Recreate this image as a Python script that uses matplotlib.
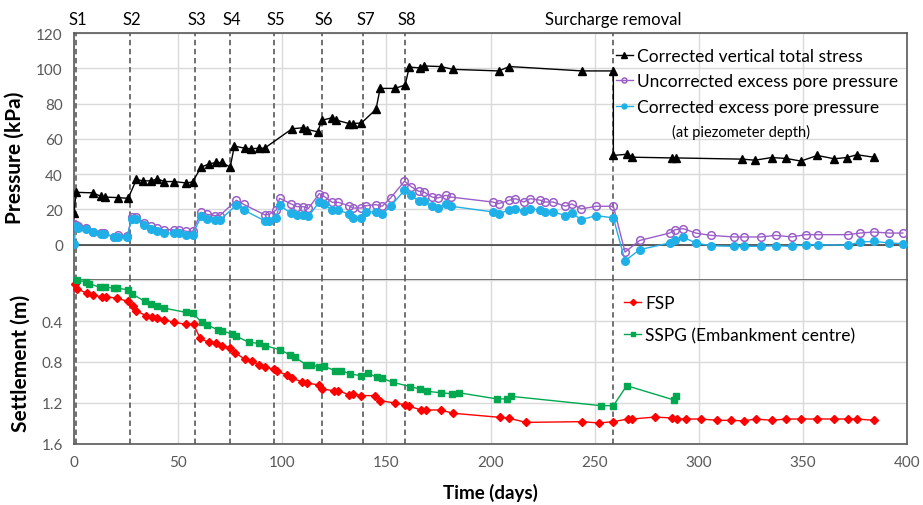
import matplotlib.pyplot as plt
import numpy as np

plt.rcParams['font.family'] = ['Lato', 'DejaVu Sans']

# stage / event times (days)
stage_days = [1, 27, 58, 75, 96, 119, 139, 159]
stage_names = ['S1', 'S2', 'S3', 'S4', 'S5', 'S6', 'S7', 'S8']
removal_day = 259

# corrected vertical total stress (kPa)
ts_day = [0, 1, 9, 13, 15, 21, 26, 30, 33, 37, 40, 43.4, 48, 54, 57, 61, 65, 68, 71, 75,
          77, 82, 85, 89, 91.5, 104.7, 110, 112, 117, 119, 124, 126, 132, 134, 138, 145,
          147, 154, 159, 161, 166, 168, 176, 182, 204, 209, 244, 259, 259, 265.7, 268,
          287, 289, 321, 327, 335, 342, 349, 357, 365, 371, 376, 384]
ts_val = [18, 29.7, 29.4, 27.4, 27, 26.7, 26.3, 37, 36.2, 36.2, 37.3, 35.8, 35.8, 35, 35.6,
          44, 45.8, 46.6, 46.6, 44, 55.9, 54.7, 54.4, 54.7, 54.7, 65.7, 66.3, 65.3, 64, 70.5,
          72, 70.6, 68.7, 68.7, 69, 76.7, 88.6, 88.6, 90.5, 100.7, 100.2, 101.3, 101, 99.4,
          98.5, 101, 98.5, 98.5, 50.6, 51.3, 49.6, 49.2, 49.2, 48.5, 47.9, 49.4, 48.9, 47.4,
          50.6, 48.7, 49.4, 51, 49.6]

# excess pore pressure (kPa)
pp_day = [0, 1, 2, 5.8, 9, 13, 14.6, 19, 21, 25.6, 27.7, 30, 33.6, 37, 40, 43, 48, 50.6, 54,
          57, 61, 64, 67.5, 70, 78, 81.4, 91.5, 93.4, 97, 98.7, 104, 107, 110, 112.6, 117.8,
          120, 124, 127, 132, 134, 138, 140, 145, 148, 152, 158.7, 162, 165.5, 168, 172,
          174.7, 178.7, 181, 201, 204, 209, 212, 216, 219, 224, 226, 230, 236, 239, 243.6,
          250.8, 259, 264.6, 271.6, 286, 288.6, 292.6, 298.6, 305.8, 316.7, 321.8, 329.8,
          337, 344.6, 351.4, 357.4, 371.5, 377.5, 384, 391.5, 398]
pp_uncorr = [12, 11.4, 10.4, 9.5, 7.4, 6.6, 6.6, 4.4, 5.3, 5.1, 15.5, 15.5, 12.3, 10.4, 9.5,
             8.5, 8.5, 8.5, 7.6, 7.6, 18.4, 17.2, 16.5, 16.5, 25.2, 22.9, 17, 17, 19.5, 26.3,
             23.3, 21.6, 21.6, 20.6, 29, 27.5, 24, 24, 22.1, 20.8, 20.8, 22.1, 22.7, 21.8,
             26.5, 36, 32.8, 30.3, 29.9, 27, 26.5, 28, 27, 24.2, 23.3, 25.2, 26.1, 24.2, 26.1,
             25.2, 24.2, 24.2, 21.8, 23.1, 20.3, 21.8, 21.8, -4.2, 2.4, 6.6, 8.5, 9.1, 6.6,
             5.3, 4.4, 4.4, 4.4, 5.3, 4.4, 5.7, 5.7, 5.7, 6.6, 7.2, 6.6, 6.6]
pp_corr = [0.5, 10.5, 9.7, 8.7, 7, 6.3, 6.3, 4.2, 4.6, 4.6, 14.8, 14.8, 11.2, 8.9, 7.6, 6.6,
           6.6, 6.6, 5.7, 5.7, 16.1, 14.8, 13.8, 13.8, 22.6, 19.7, 13.6, 13.6, 15.2, 22.6,
           17.8, 17, 17, 16.1, 24.3, 23.1, 19.5, 19.5, 17.6, 15.2, 15.2, 18.6, 18.6, 17.6,
           21.8, 30.9, 28, 24.6, 24.6, 21.8, 20.8, 23.1, 21.8, 18.6, 17.4, 19.9, 20.5, 18.9,
           20.5, 19.5, 18.6, 18.6, 16.5, 18, 14.2, 16.5, 15.2, -9.1, -2.8, 1, 2.8, 4.2, 1,
           -0.6, -0.9, -0.9, -0.9, -0.6, -0.9, 0, 0, -0.3, 1.5, 1.9, 1, 0.6]

# settlement (m)
fsp_day = [0.3, 1.6, 6.4, 9, 13.3, 15.4, 20.8, 25.8, 28.2, 30, 34.5, 37.3, 40, 43, 48, 54,
           57.4, 60.6, 64.6, 68, 71, 75, 77.4, 82, 85.4, 89, 91.8, 96, 97.4, 102.5, 104.6,
           109.5, 112, 117.5, 119, 124.7, 127, 132, 134, 138, 144.7, 147, 154, 159, 161,
           166.7, 168.8, 176, 182, 204.5, 209, 217, 244, 252, 259, 266, 268, 279, 287,
           289.4, 294, 301, 309, 315.7, 321.5, 327.4, 335, 342, 349, 357, 365, 371.5, 376,
           384]
fsp_val = [0.04, 0.088, 0.13, 0.146, 0.163, 0.163, 0.179, 0.208, 0.257, 0.3, 0.348, 0.358,
           0.374, 0.387, 0.413, 0.433, 0.433, 0.569, 0.608, 0.618, 0.641, 0.663, 0.712,
           0.771, 0.793, 0.826, 0.852, 0.868, 0.891, 0.927, 0.959, 0.992, 1.005, 1.024,
           1.063, 1.08, 1.08, 1.12, 1.11, 1.128, 1.128, 1.177, 1.2, 1.216, 1.232, 1.268,
           1.268, 1.268, 1.3, 1.34, 1.349, 1.389, 1.382, 1.395, 1.382, 1.356, 1.356, 1.337,
           1.346, 1.356, 1.356, 1.356, 1.369, 1.369, 1.375, 1.356, 1.369, 1.356, 1.356,
           1.356, 1.356, 1.356, 1.356, 1.369]
sspg_day = [1.6, 6, 7.4, 12.5, 15, 19, 20.8, 25.8, 28, 34, 36.9, 40, 43, 53.8, 57, 61.4, 64,
            69, 71, 76, 78, 84, 89, 91.8, 99, 103.8, 106, 111.5, 114, 117.5, 120, 125.5,
            128.4, 132.7, 138, 141, 145.5, 148, 153, 161.5, 166, 169.6, 176, 181.6, 184.8,
            203, 207.7, 210, 253, 259, 265.4, 288, 289.3]
sspg_val = [0.0, 0.023, 0.036, 0.072, 0.072, 0.078, 0.081, 0.094, 0.137, 0.208, 0.234, 0.25,
            0.273, 0.316, 0.325, 0.413, 0.439, 0.485, 0.495, 0.527, 0.55, 0.608, 0.618,
            0.641, 0.68, 0.732, 0.754, 0.826, 0.826, 0.852, 0.842, 0.885, 0.885, 0.917,
            0.934, 0.91, 0.949, 0.959, 0.998, 1.04, 1.063, 1.086, 1.1, 1.11, 1.1, 1.16, 1.16,
            1.135, 1.226, 1.226, 1.031, 1.17, 1.129]

tick_col = '#595959'
grid_col = '#d9d9d9'
frame_col = '#595959'

fig = plt.figure(figsize=(9.23, 5.06), dpi=100)
ax1 = fig.add_axes([74/923, 225/506, 833/923, 247/506])
ax2 = fig.add_axes([74/923, 61/506, 833/923, 164/506])

for ax in (ax1, ax2):
    ax.set_xlim(0, 400)
    ax.set_xticks(np.arange(0, 401, 50))
    ax.grid(True, color=grid_col, linewidth=1)
    ax.set_axisbelow(True)
    ax.tick_params(length=0, labelsize=11, colors=tick_col, pad=8)
    for s in ax.spines.values():
        s.set_color(frame_col)
        s.set_linewidth(1.2)
    for d in stage_days + [removal_day]:
        ax.axvline(d, color='#666666', linestyle=(0, (3, 2)), linewidth=1.3, zorder=1)

# top panel
ax1.set_ylim(-20, 120)
ax1.set_yticks(np.arange(-20, 121, 20))
ax1.set_yticklabels([''] + [str(v) for v in range(0, 121, 20)])
ax1.tick_params(labelbottom=False)
ax1.axhline(0, color='#404040', linewidth=1.2, zorder=1)

l1, = ax1.plot(ts_day, ts_val, color='black', linewidth=1, marker='^', markersize=6,
               label='Corrected vertical total stress', zorder=4)
l2, = ax1.plot(pp_day, pp_uncorr, color='#9b5fc8', linewidth=1, marker='o', markersize=5.5,
               markerfacecolor='none', markeredgewidth=1.1,
               label='Uncorrected excess pore pressure', zorder=3)
l3, = ax1.plot(pp_day, pp_corr, color='#1fb0e8', linewidth=1, marker='o', markersize=5.5,
               label='Corrected excess pore pressure', zorder=3)

ax1.legend(handles=[l1, l2, l3], loc='upper left', bbox_to_anchor=(0.64, 0.975),
           frameon=False, fontsize=12.5, handlelength=1.0, handletextpad=0.2,
           labelspacing=0.55, borderpad=0, markerscale=0.65)
ax1.text(0.718, 0.6, '(at piezometer depth)', transform=ax1.transAxes, fontsize=10.5,
         ha='left', va='center')

ax1.set_ylabel('Pressure (kPa)', fontsize=15, fontweight='bold', labelpad=8)

for d, n in zip(stage_days, stage_names):
    ax1.text(d + 1, 123.5, n, ha='center', va='bottom', fontsize=12)
ax1.text(removal_day, 123.5, 'Surcharge removal', ha='center', va='bottom', fontsize=12)

# bottom panel
ax2.set_ylim(1.6, 0)
ax2.set_yticks([0, 0.4, 0.8, 1.2, 1.6])
ax2.set_yticklabels(['', '0.4', '0.8', '1.2', '1.6'])
ax2.spines['top'].set_visible(False)

f1, = ax2.plot(fsp_day, fsp_val, color='#ff0000', linewidth=1, marker='D', markersize=4.5,
               label='FSP', clip_on=False, zorder=3)
f2, = ax2.plot(sspg_day, sspg_val, color='#00a94f', linewidth=1, marker='s', markersize=5,
               label='SSPG (Embankment centre)', clip_on=False, zorder=3)
ax2.legend(handles=[f1, f2], loc='upper left', bbox_to_anchor=(0.65, 0.96),
           frameon=False, fontsize=12.5, handlelength=1.0, handletextpad=0.2,
           labelspacing=0.9, borderpad=0, markerscale=0.7)

ax2.set_ylabel('Settlement (m)', fontsize=15, fontweight='bold', labelpad=8)
ax2.set_xlabel('Time (days)', fontsize=13.5, fontweight='bold', labelpad=10)

fig.savefig('out.png', dpi=100)
